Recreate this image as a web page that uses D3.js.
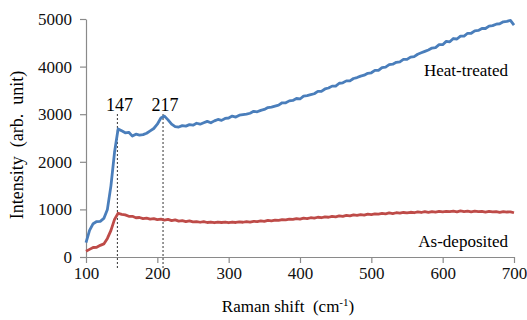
<!DOCTYPE html>
<html>
<head>
<meta charset="utf-8">
<script src="https://cdn.jsdelivr.net/npm/d3@7"></script>
<style>
  body { margin: 0; background: #fff; }
</style>
</head>
<body>
<div id="chart"></div>
<script>
// Raman spectra, heat-treated vs as-deposited

var shift = d3.range(100, 705, 5);

var heatTreated = [
	300, 560, 700, 745, 750, 810, 1000, 1500, 2200, 2690, 2650, 2610, 2620, 2540, 2580, 2560, 2570, 2600, 2650, 2700,
	2790, 2920, 2960, 2880, 2790, 2740, 2730, 2760, 2750, 2780, 2770, 2810, 2790, 2820, 2850, 2820, 2860, 2890, 2870, 2910,
	2920, 2960, 2940, 2980, 2990, 3000, 3020, 3060, 3050, 3080, 3100, 3140, 3150, 3170, 3190, 3240, 3240, 3280, 3290, 3330,
	3320, 3380, 3390, 3410, 3430, 3480, 3480, 3530, 3550, 3590, 3590, 3650, 3660, 3700, 3700, 3750, 3770, 3800, 3820, 3860,
	3870, 3920, 3920, 3980, 3990, 4040, 4050, 4090, 4100, 4150, 4150, 4200, 4210, 4260, 4290, 4320, 4350, 4390, 4400, 4460,
	4460, 4530, 4520, 4590, 4580, 4640, 4640, 4700, 4700, 4750, 4760, 4800, 4800, 4850, 4860, 4890, 4900, 4940, 4950, 4970,
	4870
];

var asDeposited = [
	120, 160, 200, 205, 245, 275, 390, 560, 790, 920, 895, 885, 855, 855, 825, 830, 805, 815, 795, 805,
	785, 795, 775, 790, 765, 780, 755, 765, 745, 760, 740, 745, 730, 745, 725, 735, 720, 735, 725, 735,
	720, 735, 725, 740, 730, 745, 735, 750, 745, 760, 750, 770, 760, 775, 770, 785, 780, 795, 790, 805,
	795, 815, 805, 825, 815, 835, 825, 845, 835, 855, 845, 865, 855, 875, 865, 885, 875, 890, 880, 900,
	890, 905, 900, 915, 905, 925, 910, 930, 920, 935, 925, 940, 930, 950, 935, 955, 940, 955, 945, 960,
	950, 960, 955, 965, 950, 970, 955, 965, 950, 965, 955, 960, 945, 960, 950, 955, 940, 955, 945, 950,
	930
];

var peakLabels = ["147", "217"];
var peakShift = [144, 208];

var xTicks = [100, 200, 300, 400, 500, 600, 700];
var yTicks = [0, 1000, 2000, 3000, 4000, 5000];

var serif = "Liberation Serif";
var width = 527, height = 320;
var svg = d3.select("#chart").append("svg")
	.attr("width", width).attr("height", height)
	.attr("font-family", serif);

var x = d3.scaleLinear().domain([100, 700]).range([86, 514]);
var y = d3.scaleLinear().domain([0, 5000]).range([257, 19]);

// axes
var xAxis = svg.append("g")
	.attr("transform", "translate(0," + y(0) + ")")
	.call(d3.axisBottom(x).tickValues(xTicks).tickFormat(d3.format("d"))
		.tickSize(6).tickSizeOuter(0).tickPadding(4));
var yAxis = svg.append("g")
	.attr("transform", "translate(" + x(100) + ",0)")
	.call(d3.axisLeft(y).tickValues(yTicks).tickFormat(d3.format("d"))
		.tickSize(6).tickSizeOuter(0).tickPadding(8));

[xAxis, yAxis].forEach(function (g) {
	g.attr("font-family", serif).attr("font-size", 17);
	g.selectAll("path, line").attr("stroke", "#8a8a8a").attr("stroke-width", 1.2);
	g.selectAll("text").attr("fill", "#111");
});

// dotted peak markers
svg.selectAll("line.peak").data(peakShift).enter().append("line")
	.attr("class", "peak")
	.attr("x1", function (d) { return x(d); })
	.attr("x2", function (d) { return x(d); })
	.attr("y1", 114).attr("y2", 270)
	.attr("stroke", "#333").attr("stroke-width", 1)
	.attr("stroke-dasharray", "2,2");

svg.selectAll("text.peak").data(peakLabels).enter().append("text")
	.attr("class", "peak")
	.attr("x", function (d, i) { return x(peakShift[i]) + 2; })
	.attr("y", 111)
	.attr("text-anchor", "middle")
	.attr("font-family", serif).attr("font-size", 18)
	.text(function (d) { return d; });

// spectra
var line = d3.line()
	.x(function (d, i) { return x(shift[i]); })
	.y(function (d) { return y(d); });

svg.append("path").datum(asDeposited)
	.attr("d", line).attr("fill", "none")
	.attr("stroke", "#be4b48").attr("stroke-width", 2.8)
	.attr("stroke-linejoin", "round");

svg.append("path").datum(heatTreated)
	.attr("d", line).attr("fill", "none")
	.attr("stroke", "#4a7ebb").attr("stroke-width", 2.8)
	.attr("stroke-linejoin", "round");

// series labels
svg.append("text").attr("x", 508).attr("y", 76)
	.attr("text-anchor", "end").attr("font-family", serif).attr("font-size", 17)
	.text("Heat-treated");
svg.append("text").attr("x", 508).attr("y", 247)
	.attr("text-anchor", "end").attr("font-family", serif).attr("font-size", 17)
	.text("As-deposited");

// axis titles
var xt = svg.append("text").attr("x", 288).attr("y", 312)
	.attr("text-anchor", "middle").attr("font-family", serif).attr("font-size", 17)
	.style("white-space", "pre");
xt.append("tspan").text("Raman shift  (cm");
xt.append("tspan").attr("font-size", 11).attr("dy", -6).text("-1");
xt.append("tspan").attr("dy", 6).text(")");

svg.append("text")
	.attr("transform", "translate(23,145) rotate(-90)")
	.attr("text-anchor", "middle").attr("font-family", serif).attr("font-size", 18)
	.style("white-space", "pre")
	.text("Intensity  (arb.  unit)");
</script>
</body>
</html>
